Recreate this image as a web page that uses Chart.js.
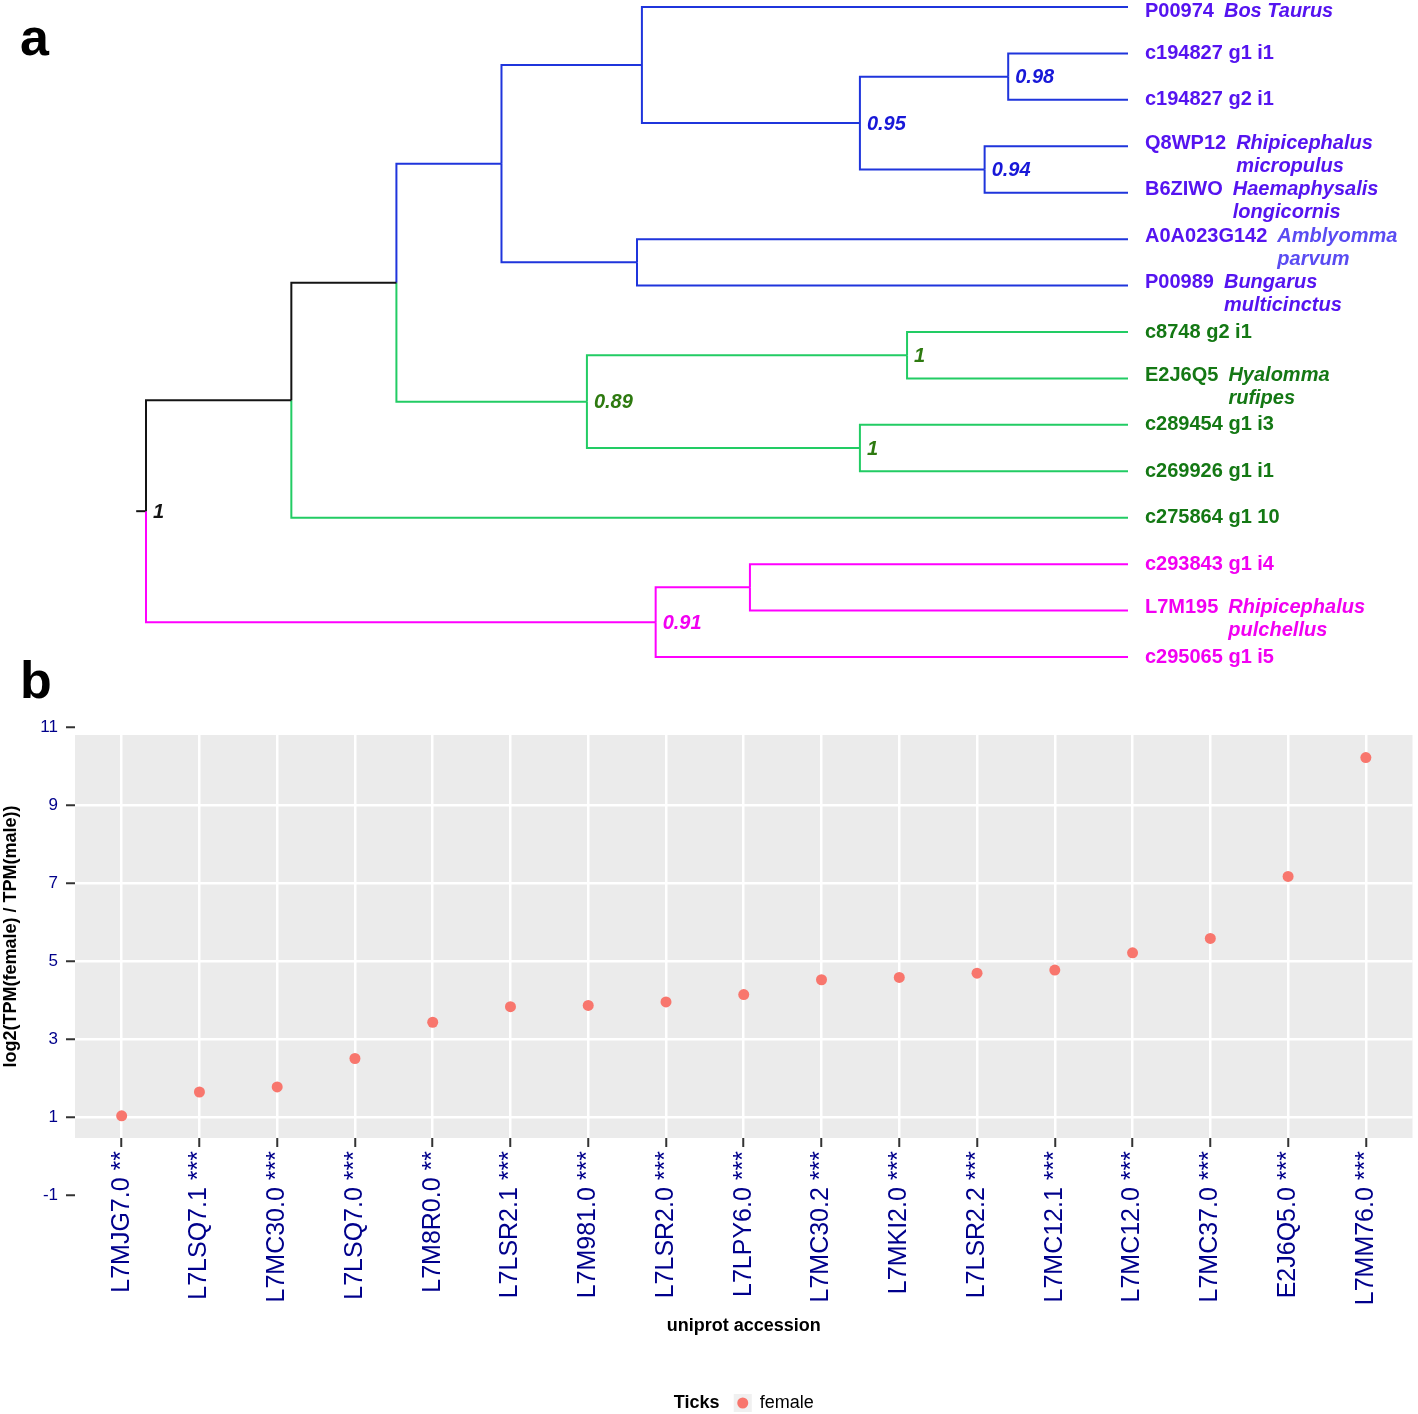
<!DOCTYPE html>
<html>
<head>
<meta charset="utf-8">
<title>tree and expression</title>
<script src="https://cdn.jsdelivr.net/npm/chart.js@4.4.1/dist/chart.umd.min.js"></script>
<style>
body{margin:0;background:#fff;overflow:hidden;}
#wrap{position:relative;width:1418px;height:1414px;}
canvas{position:absolute;left:0;}
#treeCanvas{top:0;}
#dotCanvas{top:680px;}
.tag{position:absolute;left:20px;font:bold 52px 'Liberation Sans',Arial,sans-serif;line-height:52px;color:#000;}
</style>
</head>
<body>
<div id="wrap">
  <canvas id="treeCanvas" width="1418" height="680"></canvas>
  <canvas id="dotCanvas" width="1418" height="734"></canvas>
  <div class="tag" style="top:11px">a</div>
  <div class="tag" style="top:654px">b</div>
</div>
<script>
// ---------- panel a : tree ----------
// leaves, top to bottom
const leafIds = ['P00974','c194827 g1 i1','c194827 g2 i1','Q8WP12','B6ZIWO','A0A023G142','P00989',
  'c8748 g2 i1','E2J6Q5','c289454 g1 i3','c269926 g1 i1','c275864 g1 10','c293843 g1 i4','L7M195','c295065 g1 i5'];
const leafSpecies  = ['Bos Taurus','','','Rhipicephalus','Haemaphysalis','Amblyomma','Bungarus','','Hyalomma','','','','','Rhipicephalus',''];
const leafSpecies2 = ['','','','micropulus','longicornis','parvum','multicinctus','','rufipes','','','','','pulchellus',''];
const leafClade = ['blue','blue','blue','blue','blue','blue','blue','green','green','green','green','green','pink','pink','pink'];

// internal nodes; kids: number = leaf index, string = node name
const nodeNames   = ['root','nE','nD','nC','nA','n95','n98','n94','nB','n89','n1a','n1b','n91','nP'];
const nodeKids    = [['nE','n91'],['nD',11],['nC','n89'],['nA','nB'],[0,'n95'],['n98','n94'],[1,2],[3,4],[5,6],
  ['n1a','n1b'],[7,8],[9,10],['nP',14],[12,13]];
const nodeDepth   = [0,14.8,25.5,36.2,50.5,72.7,87.8,85.4,50.0,44.9,77.5,72.7,51.9,61.5];
const nodeSupport = ['1','','','','','0.95','0.98','0.94','','0.89','1','1','0.91',''];
const nodeClade   = ['black','black','black','blue','blue','blue','blue','blue','blue','green','green','green','pink','pink'];
const tipDepth = 100;
const rootEdge = 1.0;

const cladeLine    = {black:'#141414', blue:'#1f35dc', green:'#22cc64', pink:'#ff00ff'};
const cladeText    = {black:'#141414', blue:'#5514f0', green:'#147814', pink:'#f200f2'};
const cladeSupport = {black:'#141414', blue:'#1818d8', green:'#2e7a10', pink:'#f200f2'};
const parvumTint = '#5a4cf2';
const family = "'Liberation Sans', Arial, sans-serif";

const nodeY = {};
function yOf(ref){
  if (typeof ref === 'number') return ref;
  if (nodeY[ref] !== undefined) return nodeY[ref];
  const k = nodeKids[nodeNames.indexOf(ref)];
  nodeY[ref] = (yOf(k[0]) + yOf(k[k.length-1])) / 2;
  return nodeY[ref];
}
function xOf(ref){ return typeof ref === 'number' ? tipDepth : nodeDepth[nodeNames.indexOf(ref)]; }
function cladeOf(ref){ return typeof ref === 'number' ? leafClade[ref] : nodeClade[nodeNames.indexOf(ref)]; }

const treeSets = [];
nodeNames.forEach((name,i)=>{
  nodeKids[i].forEach(k=>{
    treeSets.push({
      data:[{x:nodeDepth[i],y:yOf(name)},{x:nodeDepth[i],y:yOf(k)},{x:xOf(k),y:yOf(k)}],
      borderColor: cladeLine[cladeOf(k)], borderWidth:2, showLine:true, pointRadius:0, clip:false, fill:false
    });
  });
});
treeSets.push({data:[{x:-rootEdge,y:yOf('root')},{x:0,y:yOf('root')}], borderColor:cladeLine.black,
  borderWidth:2, showLine:true, pointRadius:0, clip:false, fill:false});

const treeText = {
  id:'treeText',
  afterDatasetsDraw(chart){
    const {ctx, scales:{x,y}} = chart;
    ctx.save();
    ctx.textBaseline = 'middle';
    ctx.textAlign = 'left';
    leafIds.forEach((id,i)=>{
      const px = x.getPixelForValue(tipDepth) + 17;
      let py = y.getPixelForValue(i) + (i === 0 ? 4 : 0);
      if (leafSpecies2[i]) py -= 3;
      ctx.font = 'bold 20px ' + family;
      ctx.fillStyle = cladeText[leafClade[i]];
      ctx.fillText(id, px, py);
      if (leafSpecies[i]) {
        const sx = px + ctx.measureText(id).width + 10;
        ctx.font = 'italic bold 20px ' + family;
        if (i === 5) ctx.fillStyle = parvumTint;
        ctx.fillText(leafSpecies[i], sx, py);
        if (leafSpecies2[i]) ctx.fillText(leafSpecies2[i], sx, py + 23);
      }
    });
    ctx.font = 'italic bold 20px ' + family;
    nodeNames.forEach((n,i)=>{
      if (!nodeSupport[i]) return;
      ctx.fillStyle = cladeSupport[nodeClade[i]];
      ctx.fillText(nodeSupport[i], x.getPixelForValue(nodeDepth[i]) + 7, y.getPixelForValue(yOf(n)) + 1);
    });
    ctx.restore();
  }
};

new Chart(document.getElementById('treeCanvas'), {
  type:'scatter',
  data:{datasets:treeSets},
  options:{
    responsive:false, animation:false, devicePixelRatio:1,
    layout:{padding:{left:146,right:290,top:7,bottom:23}},
    scales:{
      x:{type:'linear',min:0,max:tipDepth,display:false},
      y:{type:'linear',min:0,max:leafIds.length-1,reverse:true,display:false}
    },
    plugins:{legend:{display:false},tooltip:{enabled:false}}
  },
  plugins:[treeText]
});

// ---------- panel b : log2 ratio ----------
const accessions = ['L7MJG7.0','L7LSQ7.1','L7MC30.0','L7LSQ7.0','L7M8R0.0','L7LSR2.1','L7M981.0','L7LSR2.0','L7LPY6.0',
  'L7MC30.2','L7MKI2.0','L7LSR2.2','L7MC12.1','L7MC12.0','L7MC37.0','E2J6Q5.0','L7MM76.0'];
const signif = ['**','***','***','***','**','***','***','***','***','***','***','***','***','***','***','***','***'];
const femaleLog2 = [1.03,1.64,1.77,2.50,3.43,3.83,3.86,3.95,4.14,4.52,4.58,4.69,4.77,5.21,5.58,7.17,10.22];
const yTicks = [-1,1,3,5,7,9,11];

const panelBg = {
  id:'panelBg',
  beforeDraw(chart){
    const {ctx, chartArea:a} = chart;
    ctx.save();
    ctx.fillStyle = '#ebebeb';
    ctx.fillRect(a.left, a.top, a.right - a.left, a.bottom - a.top);
    ctx.restore();
  }
};

const keyLegend = {
  id:'keyLegend',
  afterDraw(chart){
    const {ctx, chartArea:a} = chart;
    const ds = chart.data.datasets[0];
    const cx = (a.left + a.right) / 2, cy = 723;
    ctx.save();
    ctx.textBaseline = 'middle';
    ctx.textAlign = 'left';
    ctx.fillStyle = '#000';
    ctx.font = 'bold 18px ' + family;
    ctx.fillText('Ticks', cx - 70, cy);
    ctx.fillStyle = '#f0f0f0';
    ctx.fillRect(cx - 10, cy - 9, 18, 18);
    ctx.fillStyle = ds.backgroundColor;
    ctx.beginPath();
    ctx.arc(cx - 1, cy, 5.5, 0, Math.PI * 2);
    ctx.fill();
    ctx.fillStyle = '#000';
    ctx.font = '18px ' + family;
    ctx.fillText(ds.label, cx + 16, cy);
    ctx.restore();
  }
};

new Chart(document.getElementById('dotCanvas'), {
  type:'scatter',
  data:{datasets:[{
    label:'female',
    data: femaleLog2.map((v,i)=>({x:i,y:v})),
    backgroundColor:'#f8766d', borderWidth:0, pointRadius:5.5
  }]},
  options:{
    responsive:false, animation:false, devicePixelRatio:1,
    layout:{padding:{left:0,right:0,top:55,bottom:74}},
    plugins:{legend:{display:false},tooltip:{enabled:false}},
    scales:{
      x:{
        type:'linear', min:-0.6, max:accessions.length - 0.4,
        afterBuildTicks: s => { s.ticks = accessions.map((_,i)=>({value:i})); },
        afterFit: s => { s.height = 202; s.paddingLeft = 0; s.paddingRight = 0; },
        grid:{color:'#ffffff', lineWidth:2.5, tickColor:'#333', tickWidth:2, tickLength:9},
        border:{display:false},
        ticks:{autoSkip:false, minRotation:90, maxRotation:90, padding:4, color:'#00008b',
          font:{size:25, family:family}, callback: v => accessions[v] + ' ' + signif[v]},
        title:{display:true, text:'uniprot accession', color:'#000',
          font:{size:18, weight:'bold', family:family}, padding:{top:0,bottom:3}}
      },
      y:{
        type:'linear', min:0.46, max:10.8,
        afterBuildTicks: s => { s.ticks = yTicks.map(v=>({value:v})); },
        afterFit: s => { s.width = 75; s.paddingTop = 0; s.paddingBottom = 0; },
        grid:{color: c => (c.tick && c.tick.value >= 1 && c.tick.value <= 9) ? '#ffffff' : 'rgba(0,0,0,0)',
          lineWidth:2.5, tickColor:'#333', tickWidth:2, tickLength:9},
        border:{display:false},
        ticks:{padding:8, color:'#00008b', font:{size:17, family:family}, callback: v => String(v)},
        title:{display:true, text:'log2(TPM(female) / TPM(male))', color:'#000',
          font:{size:18, weight:'bold', family:family}, padding:{top:0,bottom:0}}
      }
    }
  },
  plugins:[panelBg, keyLegend]
});
</script>
</body>
</html>
